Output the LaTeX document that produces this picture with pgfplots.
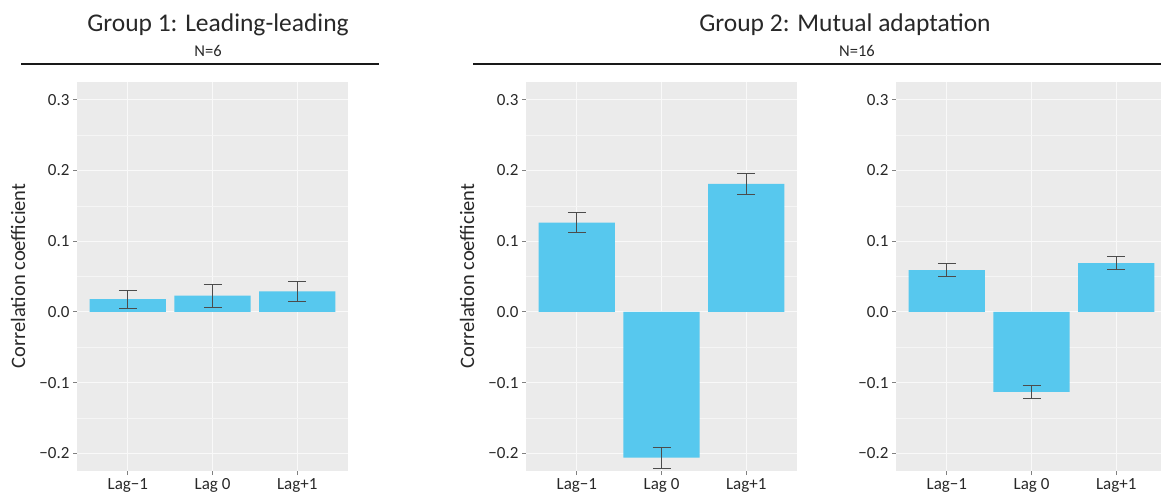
\documentclass[border=0pt]{standalone}
\usepackage{pgfplots}
\pgfplotsset{compat=1.18}
\usepackage{fontspec}
\setmainfont{Carlito}
\definecolor{barblue}{RGB}{87,200,238}
\definecolor{panelgray}{RGB}{235,235,235}
\definecolor{txt}{RGB}{40,40,40}
\pgfplotsset{
 panel/.style={
  scale only axis, width=271pt, height=389pt, anchor=south west,
  xmin=0.4, xmax=3.6, ymin=-0.225, ymax=0.325,
  xtick={1,2,3}, xticklabels={Lag−1,Lag 0,Lag+1},
  ytick={-0.2,-0.1,0,0.1,0.2,0.3}, yticklabels={−0.2,−0.1,0.0,0.1,0.2,0.3},
  minor ytick={-0.15,-0.05,0.05,0.15,0.25},
  axis background/.style={fill=panelgray},
  axis line style={draw=none},
  grid=both,
  major grid style={white!70!panelgray, line width=0.8pt},
  minor grid style={white!50!panelgray, line width=0.5pt},
  tick align=outside, major tick length=4pt, minor tick length=0pt,
  tick style={gray, line width=0.8pt},
  xtick pos=left, ytick pos=left,
  ticklabel style={font=\fontsize{17}{20}\selectfont, text=txt},
  ybar, bar width=0.9, bar shift=0pt,
 },
 bars/.style={fill=barblue, draw=none,
  error bars/.cd, y dir=both, y explicit, error mark=|,
  error bar style={black!70, line width=0.8pt},
  error mark options={black!70, line width=0.8pt, mark size=9pt}},
}
\begin{document}
\begin{tikzpicture}[x=1pt,y=1pt]
\useasboundingbox (0pt,0pt) rectangle (1161pt,495pt);
% Panel 1
\begin{axis}[panel, at={(77pt,24pt)}]
\addplot[bars] coordinates {
 (1,0.018) +- (0,0.013)
 (2,0.023) +- (0,0.016)
 (3,0.029) +- (0,0.0135)
};
\end{axis}
% Panel 2
\begin{axis}[panel, at={(526pt,24pt)}]
\addplot[bars] coordinates {
 (1,0.126) +- (0,0.014)
 (2,-0.206) +- (0,0.015)
 (3,0.181) +- (0,0.0145)
};
\end{axis}
% Panel 3
\begin{axis}[panel, at={(896pt,24pt)}]
\addplot[bars] coordinates {
 (1,0.059) +- (0,0.009)
 (2,-0.113) +- (0,0.0095)
 (3,0.069) +- (0,0.009)
};
\end{axis}
% labels
\node[rotate=90, font=\fontsize{20.5}{24}\selectfont, text=txt] at (18pt,219pt) {Correlation coefficient};
\node[rotate=90, font=\fontsize{20.5}{24}\selectfont, text=txt] at (467pt,219pt) {Correlation coefficient};
\node[anchor=base, font=\fontsize{25.5}{30}\selectfont, text=txt] at (218pt,463pt) {Group 1: Leading-leading};
\node[anchor=base, font=\fontsize{25.5}{30}\selectfont, text=txt] at (845pt,463pt) {Group 2: Mutual adaptation};
\node[anchor=base, font=\fontsize{16.5}{19}\selectfont, text=txt] at (208pt,438pt) {N=6};
\node[anchor=base, font=\fontsize{16.5}{19}\selectfont, text=txt] at (857pt,438pt) {N=16};
\draw[line width=2.5pt, black!90] (21pt,431pt) -- (379pt,431pt);
\draw[line width=2.5pt, black!90] (473pt,431pt) -- (1161pt,431pt);
\end{tikzpicture}
\end{document}
